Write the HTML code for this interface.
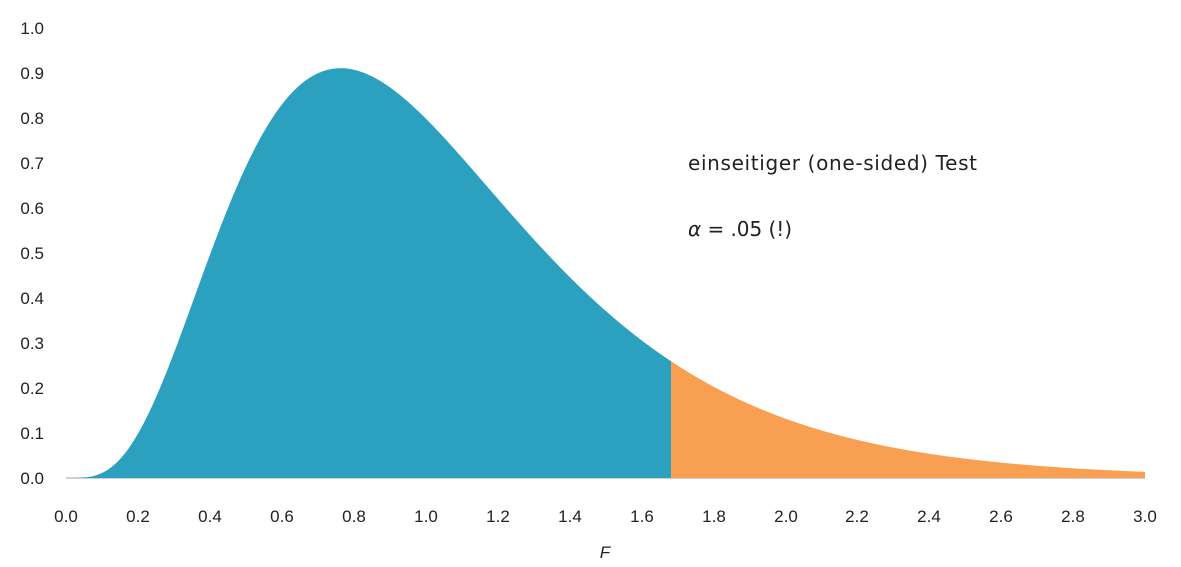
<!DOCTYPE html>
<html><head><meta charset="utf-8"><style>
html,body{margin:0;padding:0;background:#fff;}
svg text{font-family:"Liberation Sans","DejaVu Sans",sans-serif;font-size:17px;fill:#222;}
svg text.ann{font-family:"DejaVu Sans","Liberation Sans",sans-serif;font-size:20px;}
</style></head><body>
<svg id="s" width="1181" height="562" viewBox="0 0 1181 562" xmlns="http://www.w3.org/2000/svg">
<line x1="66" y1="478" x2="1145" y2="478" stroke="#d0d0d0" stroke-width="2"/>
<path id="blue" fill="#2ca1bf" d=""/>
<path id="orange" fill="#f99f52" d=""/>
<g text-anchor="end">
<text x="44" y="484">0.0</text><text x="44" y="439">0.1</text><text x="44" y="394">0.2</text><text x="44" y="349">0.3</text><text x="44" y="304">0.4</text><text x="44" y="259">0.5</text><text x="44" y="214">0.6</text><text x="44" y="169">0.7</text><text x="44" y="124">0.8</text><text x="44" y="79">0.9</text><text x="44" y="34">1.0</text>
</g>
<g text-anchor="middle">
<text x="66" y="522">0.0</text><text x="138" y="522">0.2</text><text x="210" y="522">0.4</text><text x="282" y="522">0.6</text><text x="354" y="522">0.8</text><text x="426" y="522">1.0</text><text x="498" y="522">1.2</text><text x="570" y="522">1.4</text><text x="642" y="522">1.6</text><text x="714" y="522">1.8</text><text x="786" y="522">2.0</text><text x="857" y="522">2.2</text><text x="929" y="522">2.4</text><text x="1001" y="522">2.6</text><text x="1073" y="522">2.8</text><text x="1145" y="522">3.0</text>
<text x="605" y="558" font-style="italic" font-size="19">F</text>
</g>
<text class="ann" x="688" y="170" textLength="289" lengthAdjust="spacing">einseitiger (one-sided) Test</text>
<text class="ann" x="688" y="236" textLength="104" lengthAdjust="spacing"><tspan font-style="italic">α</tspan> = .05 (!)</text>
</svg>
<script>
var P=[[95.5,477],[119,463],[139,433],[159,390],[178,333],[198,280],[218,237],[238,190],[257,147],[277,112],[297,88],[317,73],[342,67],[368,73],[396,90],[435,128],[475,170],[514,217],[553,263],[593,302],[632,333],[671,364],[750,405],[800,424],[850,438],[900,449],[950,456],[1000,462],[1050,466],[1100,470],[1145,473]];
var D=P.map(function(p){return [(p[0]-66)/359.67,(478-p[1])/450];});
function lg(z){var c=[76.18009172947146,-86.50532032941677,24.01409824083091,-1.231739572450155,0.1208650973866179e-2,-0.5395239384953e-5];var x=z,y=z,t=x+5.5;t-=(x+0.5)*Math.log(t);var s=1.000000000190015;for(var j=0;j<6;j++)s+=c[j]/++y;return -t+Math.log(2.5066282746310005*s/x);}
function fpdf(x,a,b,lc){if(x<=0)return 0;return Math.exp(lc+(a/2-1)*Math.log(x)-((a+b)/2)*Math.log(1+a*x/b));}
var best={e:1e9};
for(var a=2;a<=60;a+=1)for(var b=2;b<=80;b+=1){var lc=lg((a+b)/2)-lg(a/2)-lg(b/2)+(a/2)*Math.log(a/b);
 for(var x0=0;x0<=0.12;x0+=0.01)for(var s=0.7;s<=1.31;s+=0.05){var sfy=0,sff=0,v=[];
  for(var i=0;i<D.length;i++){var f=fpdf((D[i][0]-x0)/s,a,b,lc);v.push(f);sfy+=f*D[i][1];sff+=f*f;}
  if(sff<=0)continue;var A=sfy/sff,e=0;for(i=0;i<D.length;i++){var r=A*v[i]-D[i][1];e+=r*r;}
  if(e<best.e)best={e:e,a:a,b:b,lc:lc,x0:x0,s:s,A:A};}}
function Y(px){var x=(px-66)/359.67;return 478-450*best.A*fpdf((x-best.x0)/best.s,best.a,best.b,best.lc);}
function path(x0,x1){var d="M"+x0+",478";for(var px=x0;px<=x1;px+=1)d+=" L"+px+","+Y(px).toFixed(2);return d+" L"+x1+",478 Z";}
document.getElementById("blue").setAttribute("d",path(66,671));
document.getElementById("orange").setAttribute("d",path(671,1145));
</script>
</body></html>
